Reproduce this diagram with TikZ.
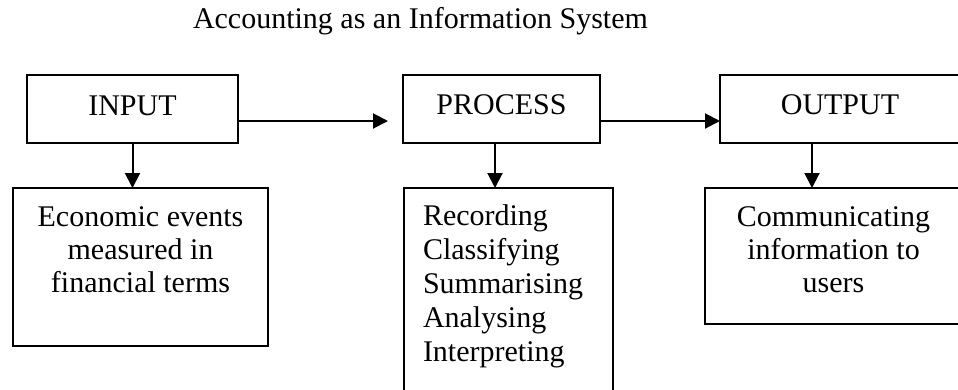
\documentclass[tikz,border=0pt]{standalone}
\usepackage{fontspec}
\setmainfont{Liberation Serif}
\usetikzlibrary{arrows.meta,calc}
\begin{document}
\begin{tikzpicture}[x=1pt,y=-1pt,
  box/.style={draw,line width=2pt,inner sep=0pt,outer sep=0pt},
  txt/.style={inner sep=0pt,outer sep=0pt,font=\fontsize{30}{33}\selectfont},
  arr/.style={line width=2pt,-{Triangle[length=15pt,width=15pt]}}]
\useasboundingbox (0,0) rectangle (958,389);
\clip (0,0) rectangle (958,389);
% title
\node[txt,anchor=base west] (title) at (193,28) {Accounting as an Information System};
% top boxes
\node[box,minimum width=211pt,minimum height=68pt] (input) at (132.5,109) {};
\node[box,minimum width=197pt,minimum height=68pt] (process) at (501.5,109) {};
\node[box,minimum width=241pt,minimum height=68pt] (output) at (840.5,109) {};
\node[txt,anchor=base] (inputt) at (132.5,115) {INPUT};
\node[txt,anchor=base] (processt) at (501.5,114.5) {PROCESS};
\node[txt,anchor=base] (outputt) at (840,114.5) {OUTPUT};
% lower boxes
\node[box,minimum width=255pt,minimum height=158pt] (econ) at (140.5,267) {};
\node[box,minimum width=209pt,minimum height=210pt] (proc2) at (508.5,293) {};
\node[box,minimum width=257pt,minimum height=136pt] (comm) at (833.5,256) {};
\node[txt,anchor=base] (econt) at (140.5,226.7)
  {\begin{tabular}[t]{@{}c@{}}Economic events\\measured in\\financial terms\end{tabular}};
\node[txt,anchor=base west,font=\fontsize{30}{34}\selectfont] (proc2t) at (423,225)
  {\begin{tabular}[t]{@{}l@{}}Recording\\Classifying\\Summarising\\Analysing\\Interpreting\end{tabular}};
\node[txt,anchor=base] (commt) at (833.5,226.7)
  {\begin{tabular}[t]{@{}c@{}}Communicating\\information to\\users\end{tabular}};
% connectors
\coordinate (ie) at ($(input.east)+(0,12)$);
\coordinate (pw) at ($(process.west)+(-15,12)$);
\draw[arr] (ie) -- (pw);
\coordinate (pe) at ($(process.east)+(0,12)$);
\draw[arr] (pe) -- (pe -| output.west);
\draw[arr] (input.south) -- (input.south |- econ.north);
\coordinate (pd) at ($(process.south)+(-6.5,0)$);
\draw[arr] (pd) -- (pd |- proc2.north);
\coordinate (od) at ($(output.south)+(-28.5,0)$);
\draw[arr] (od) -- (od |- comm.north);
\end{tikzpicture}
\end{document}
